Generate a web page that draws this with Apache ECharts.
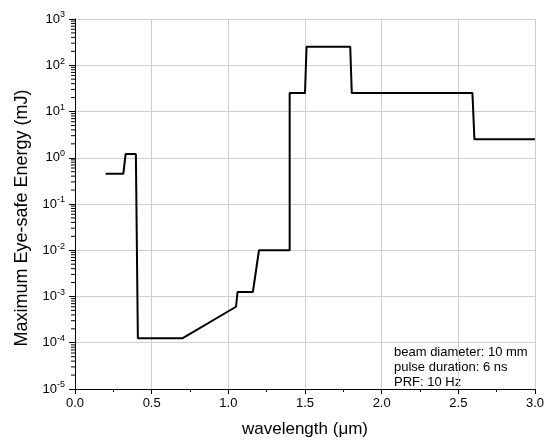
<!DOCTYPE html>
<html>
<head>
<meta charset="utf-8">
<script src="https://cdn.jsdelivr.net/npm/echarts@6/dist/echarts.min.js"></script>
<style>
  html, body { margin: 0; padding: 0; background: #fff; }
  #chart { width: 544px; height: 444px; }
</style>
</head>
<body>
<div id="chart"></div>
<script>
// Eye-safe energy limit as a function of wavelength
const wavelength = [0.2, 0.315, 0.33, 0.397, 0.41, 0.7, 1.05, 1.06, 1.16, 1.2, 1.4, 1.4, 1.5, 1.51, 1.795, 1.805, 2.592, 2.605, 3.0];
const energy = [0.45, 0.45, 1.2, 1.2, 1.25e-4, 1.25e-4, 6e-4, 1.25e-3, 1.25e-3, 0.01, 0.01, 25, 25, 250, 250, 25, 25, 2.5, 2.5];

const xTitle = 'wavelength (\u03bcm)';
const yTitle = 'Maximum Eye-safe Energy (mJ)';
const notes = ['beam diameter: 10 mm', 'pulse duration: 6 ns', 'PRF: 10 Hz'];

const FONT = '"Liberation Sans", Arial, sans-serif';

// minor tick positions for the log axis (2..9 x 10^k)
const minorTicks = [];
for (let k = -5; k < 3; k++) {
  for (let m = 2; m <= 9; m++) minorTicks.push([0, m * Math.pow(10, k)]);
}

const series = [{
  type: 'line',
  data: wavelength.map((w, i) => [w, energy[i]]),
  symbol: 'none',
  lineStyle: { color: '#000', width: 2 },
  silent: true,
  z: 5
}, {
  type: 'custom',
  data: minorTicks,
  encode: { x: 0, y: 1 },
  clip: false,
  silent: true,
  renderItem: function (params, api) {
    const p = api.coord([api.value(0), api.value(1)]);
    return {
      type: 'line',
      shape: { x1: p[0] - 4, y1: p[1], x2: p[0], y2: p[1] },
      style: { stroke: '#000', lineWidth: 1 }
    };
  }
}];

const chart = echarts.init(document.getElementById('chart'), null, { renderer: 'canvas' });
chart.setOption({
  animation: false,
  backgroundColor: '#fff',
  textStyle: { fontFamily: FONT },
  grid: { left: 75, right: 9, top: 19, bottom: 55, containLabel: false, outerBoundsMode: 'none' },
  xAxis: {
    type: 'value',
    min: 0, max: 3, interval: 0.5,
    name: xTitle,
    nameLocation: 'middle',
    nameGap: 32,
    nameTextStyle: { fontFamily: FONT, fontSize: 17, color: '#000' },
    axisLine: { show: true, onZero: false, lineStyle: { color: '#000', width: 1 } },
    axisTick: { show: true, inside: false, length: 5, lineStyle: { color: '#000' } },
    minorTick: { show: true, splitNumber: 2, length: 3, lineStyle: { color: '#000' } },
    axisLabel: {
      fontFamily: FONT, fontSize: 13, color: '#000', margin: 8,
      formatter: v => v.toFixed(1)
    },
    splitLine: { show: true, lineStyle: { color: '#cfcfcf', width: 1 } }
  },
  yAxis: {
    type: 'log',
    logBase: 10,
    min: 1e-5, max: 1e3,
    splitNumber: 8,
    axisLine: { show: true, lineStyle: { color: '#000', width: 1 } },
    axisTick: { show: true, inside: false, length: 6, lineStyle: { color: '#000' } },
    axisLabel: {
      margin: 10,
      color: '#000',
      formatter: function (v) {
        const e = Math.round(Math.log10(v));
        return '{b|10}{s|' + e + '}';
      },
      rich: {
        b: { fontFamily: FONT, fontSize: 13, color: '#000' },
        s: { fontFamily: FONT, fontSize: 9, color: '#000', padding: [0, 0, 8, 0] }
      }
    },
    splitLine: { show: true, lineStyle: { color: '#cfcfcf', width: 1 } }
  },
  graphic: [{
    type: 'text',
    x: 22, y: 218,
    rotation: Math.PI / 2,
    style: {
      text: yTitle,
      font: '18px ' + FONT,
      fill: '#000',
      align: 'center',
      verticalAlign: 'middle'
    }
  }, {
    type: 'text',
    left: 394, top: 345,
    style: {
      text: notes.join('\n'),
      font: '13px ' + FONT,
      lineHeight: 15,
      fill: '#000'
    }
  }],
  series: series
});
</script>
</body>
</html>
